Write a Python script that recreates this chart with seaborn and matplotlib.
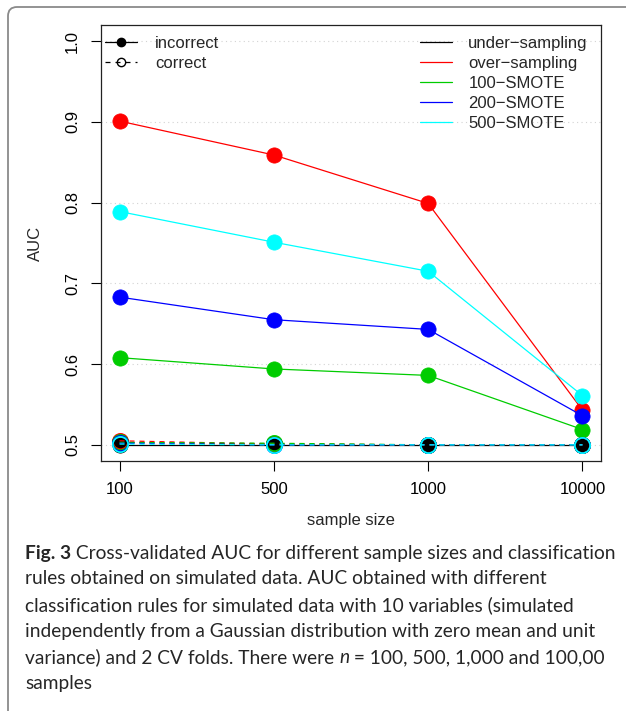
import matplotlib
matplotlib.use("Agg")
import matplotlib.pyplot as plt
import pandas as pd
import seaborn as sns
from matplotlib.lines import Line2D
from matplotlib.patches import FancyBboxPatch

# sample sizes on the x axis (categorical)
sizes = ["100", "500", "1000", "10000"]
methods = ["under\u2212sampling", "over\u2212sampling", "100\u2212SMOTE",
           "200\u2212SMOTE", "500\u2212SMOTE"]
colors = ["black", "red", "#00cc00", "blue", "cyan"]

# incorrect cross-validation (solid line, filled circles)
under_incorrect = [0.500, 0.500, 0.500, 0.500]
over_incorrect = [0.901, 0.859, 0.799, 0.543]
smote100_incorrect = [0.608, 0.594, 0.586, 0.519]
smote200_incorrect = [0.683, 0.655, 0.643, 0.536]
smote500_incorrect = [0.789, 0.751, 0.715, 0.561]

# correct cross-validation (dashed line, open circles)
under_correct = [0.503, 0.501, 0.500, 0.500]
over_correct = [0.505, 0.501, 0.500, 0.500]
smote100_correct = [0.503, 0.502, 0.500, 0.500]
smote200_correct = [0.502, 0.500, 0.500, 0.500]
smote500_correct = [0.501, 0.500, 0.500, 0.500]

incorrect = [under_incorrect, over_incorrect, smote100_incorrect,
             smote200_incorrect, smote500_incorrect]
correct = [under_correct, over_correct, smote100_correct,
           smote200_correct, smote500_correct]

rows = []
for m, vals in zip(methods, incorrect):
    rows += [(s, v, m, "incorrect") for s, v in zip(sizes, vals)]
for m, vals in zip(methods, correct):
    rows += [(s, v, m, "correct") for s, v in zip(sizes, vals)]
df = pd.DataFrame(rows, columns=["size", "auc", "method", "cv"])

sns.set_style("white")
plt.rcParams["font.family"] = ["Liberation Sans", "DejaVu Sans"]

W, H = 626, 711
fig = plt.figure(figsize=(W / 100, H / 100), dpi=100)
ax = fig.add_axes([101 / W, 1 - 461 / H, 500 / W, 436 / H])

# rounded frame around the figure (left and top edges visible)
fig.add_artist(FancyBboxPatch((0.08, -1.0), 10, 8.04,
                              boxstyle="round,pad=0,rounding_size=0.09",
                              transform=fig.dpi_scale_trans,
                              fc="none", ec="#8a8a8a", lw=1.3))

for yv in [0.5, 0.6, 0.7, 0.8, 0.9, 1.0]:
    ax.axhline(yv, color="#d3d3d3", lw=0.8, ls=(0, (1, 3)), zorder=0)

for m, c in zip(methods, colors):
    sub = df[(df.method == m) & (df.cv == "incorrect")]
    sns.lineplot(data=sub, x="size", y="auc", sort=False, color=c, lw=0.9,
                 marker="o", markersize=11, markeredgecolor=c,
                 markeredgewidth=0.5, ax=ax)
for m, c in zip(methods, colors):
    sub = df[(df.method == m) & (df.cv == "correct")]
    sns.lineplot(data=sub, x="size", y="auc", sort=False, color=c, lw=0.9,
                 dashes=False, linestyle=(0, (4, 4)),
                 marker="o", markersize=11, markerfacecolor="none",
                 markeredgecolor=c, markeredgewidth=1.2, ax=ax)

ax.set_xlim(-0.12, 3.12)
ax.set_ylim(0.48, 1.02)
ax.set_yticks([0.5, 0.6, 0.7, 0.8, 0.9, 1.0])
ax.set_yticklabels(["0.5", "0.6", "0.7", "0.8", "0.9", "1.0"],
                   rotation=90, va="center")
ax.tick_params(axis="both", direction="out", length=7, width=0.8,
               labelsize=12, pad=8, colors="black", left=True, bottom=True)
ax.set_xlabel("sample size", fontsize=12, labelpad=12)
ax.set_ylabel("AUC", fontsize=12, labelpad=16)
for sp in ax.spines.values():
    sp.set_color("#222222")
    sp.set_linewidth(0.9)

h1 = [Line2D([], [], color="black", lw=0.9, marker="o", ms=6),
      Line2D([], [], color="black", lw=0.9, ls=(0, (4, 4)), marker="o",
             ms=6, mfc="none", mew=1.0)]
leg1 = ax.legend(h1, ["incorrect", "correct"], loc="upper left",
                 bbox_to_anchor=(0.008, 0.975), frameon=False, fontsize=12,
                 handlelength=1.9, handletextpad=1.1, labelspacing=0.3,
                 borderpad=0, borderaxespad=0)
ax.add_artist(leg1)
h2 = [Line2D([], [], color=c, lw=0.9) for c in colors]
ax.legend(h2, methods, loc="upper left", bbox_to_anchor=(0.638, 0.975),
          frameon=False, fontsize=12, handlelength=1.9, handletextpad=1.0,
          labelspacing=0.3, borderpad=0, borderaxespad=0)

# caption
cap_font = ["Lato", "DejaVu Sans"]
cs = 13.8
x0 = 25 / W
lines_y = [553, 579, 605, 631, 657, 683]


def ypos(py):
    return 1 - py / H


t = fig.text(x0, ypos(lines_y[0]), "Fig. 3", fontsize=cs, family=cap_font,
             weight="bold", va="center")
ax.annotate(" Cross-validated AUC for different sample sizes and classification",
            xy=(1, 0), xycoords=t, va="bottom", ha="left", fontsize=cs,
            family=cap_font, annotation_clip=False)
fig.text(x0, ypos(lines_y[1]),
         "rules obtained on simulated data. AUC obtained with different",
         fontsize=cs, family=cap_font, va="center")
fig.text(x0, ypos(lines_y[2]),
         "classification rules for simulated data with 10 variables (simulated",
         fontsize=cs, family=cap_font, va="center")
fig.text(x0, ypos(lines_y[3]),
         "independently from a Gaussian distribution with zero mean and unit",
         fontsize=cs, family=cap_font, va="center")
t5 = fig.text(x0, ypos(lines_y[4]), "variance) and 2 CV folds. There were ",
              fontsize=cs, family=cap_font, va="center")
t6 = ax.annotate("n", xy=(1, 0), xycoords=t5, va="bottom", ha="left",
                 fontsize=cs, family=cap_font, style="italic",
                 annotation_clip=False)
ax.annotate(" = 100, 500, 1,000 and 100,00", xy=(1, 0), xycoords=t6,
            va="bottom", ha="left", fontsize=cs, family=cap_font,
            annotation_clip=False)
fig.text(x0, ypos(lines_y[5]), "samples", fontsize=cs, family=cap_font,
         va="center")

fig.savefig("out.png", dpi=100)
